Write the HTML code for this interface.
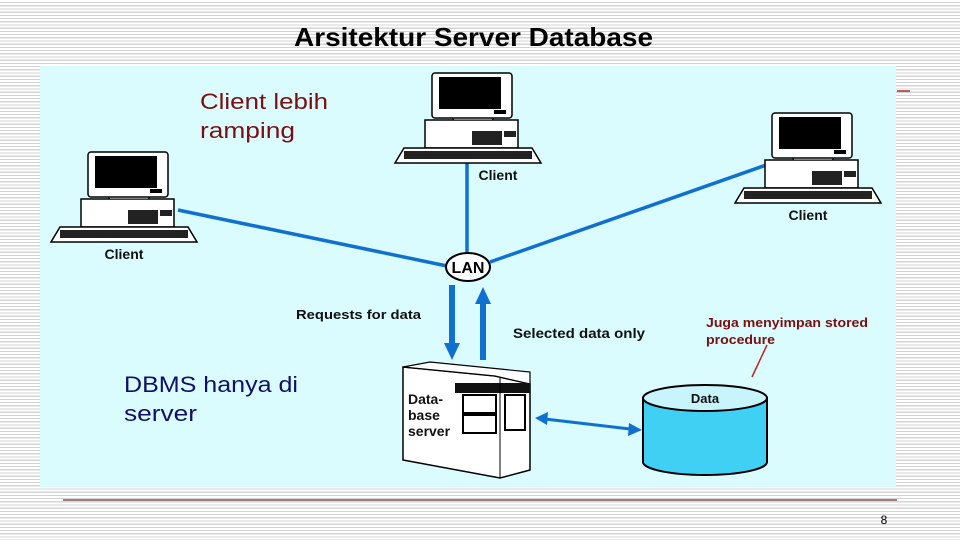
<!DOCTYPE html>
<html><head><meta charset="utf-8"><style>
body{margin:0;width:960px;height:540px;overflow:hidden;background:#fff;
background-image:repeating-linear-gradient(to bottom,#fff 0,#fff 2px,#d4d4d4 2px,#d4d4d4 3.2px);font-family:"Liberation Sans",sans-serif;}
svg{position:absolute;left:0;top:0}
</style></head><body>
<svg width="960" height="540" viewBox="0 0 960 540" font-family="Liberation Sans, sans-serif">
<defs>
<g id="pc">
 <rect x="-7" y="47" width="93" height="28" fill="#fff" stroke="#000" stroke-width="1.5"/>
 <rect x="40" y="58" width="30" height="14" fill="#222"/>
 <rect x="72" y="58" width="12" height="6" fill="#222"/>
 <path d="M22 47 L60 47 L66 41 L16 41Z" fill="#fff" stroke="#000"/>
 <rect x="0" y="0" width="80" height="45" rx="3" fill="#fff" stroke="#000" stroke-width="1.5"/>
 <rect x="7" y="4" width="62" height="32" fill="#000"/>
 <rect x="62" y="37" width="12" height="4" fill="#000"/>
 <path d="M-37 90 L109 90 L100 75 L-28 75Z" fill="#fff" stroke="#000" stroke-width="1.5"/>
 <rect x="-28" y="78" width="128" height="8" fill="#222"/>
</g>
</defs>
<text x="294" y="46" font-size="26" font-weight="bold" textLength="359" lengthAdjust="spacingAndGlyphs" fill="#000">Arsitektur Server Database</text>
<rect x="40" y="66" width="856" height="421" fill="#dafcfe"/>
<line x1="897" y1="91" x2="910" y2="91" stroke="#a03030" stroke-width="1.5"/>
<line x1="63" y1="500" x2="897" y2="500" stroke="#9a8080" stroke-width="2"/>
<text x="884" y="524" font-size="12" text-anchor="middle" fill="#000">8</text>
<g stroke="#1070d0" stroke-width="3.5" fill="none">
 <line x1="178" y1="210" x2="447" y2="266"/>
 <line x1="467" y1="163" x2="467" y2="254"/>
 <line x1="772" y1="163" x2="490" y2="262"/>
</g>
<use href="#pc" x="88" y="152"/>
<use href="#pc" x="432" y="73"/>
<use href="#pc" x="772" y="113"/>
<g font-size="14" font-weight="bold" fill="#111" text-anchor="middle">
<text x="124" y="259">Client</text>
<text x="498" y="180">Client</text>
<text x="808" y="220">Client</text>
</g>
<ellipse cx="468" cy="267" rx="22" ry="14" fill="#fff" stroke="#000" stroke-width="2"/>
<text x="468" y="273" font-size="16" font-weight="bold" text-anchor="middle">LAN</text>
<g fill="#1070d0" stroke="none">
 <rect x="449" y="285" width="6" height="60"/><path d="M444 343 L460 343 L452 360Z"/>
 <rect x="480" y="302" width="6" height="58"/><path d="M475 304 L491 304 L483 287Z"/>
</g>
<text x="296" y="319" font-size="13" font-weight="bold" fill="#111" textLength="125" lengthAdjust="spacingAndGlyphs">Requests for data</text>
<text x="513" y="338" font-size="14" font-weight="bold" fill="#111" textLength="132" lengthAdjust="spacingAndGlyphs">Selected data only</text>
<path d="M403 367 L495 376 L530 384 L530 470 L500 478 L403 460Z" fill="#fff" stroke="#000" stroke-width="1.5"/>
<path d="M403 367 L430 362 L530 372 L530 384 L495 376Z" fill="#fff" stroke="#000" stroke-width="1.2"/>
<rect x="455" y="383" width="75" height="10" fill="#111"/>
<line x1="500" y1="378" x2="500" y2="478" stroke="#000"/>
<rect x="463" y="395" width="33" height="18" fill="#fff" stroke="#000" stroke-width="2"/>
<rect x="463" y="415" width="33" height="18" fill="#fff" stroke="#000" stroke-width="2"/>
<rect x="505" y="395" width="20" height="35" fill="#fff" stroke="#000" stroke-width="2"/>
<text x="408" y="404" font-size="14" font-weight="bold" fill="#111">Data-</text>
<text x="408" y="420" font-size="14" font-weight="bold" fill="#111">base</text>
<text x="408" y="436" font-size="14" font-weight="bold" fill="#111">server</text>
<line x1="545" y1="419" x2="630" y2="429" stroke="#1070d0" stroke-width="3"/>
<path d="M535 418 L548 412 L547 425Z" fill="#1070d0"/>
<path d="M642 430 L629 423 L628 436Z" fill="#1070d0"/>
<path d="M643 398 L643 462 A62 13 0 0 0 767 462 L767 398Z" fill="#3fd0f4" stroke="#000" stroke-width="2"/>
<ellipse cx="705" cy="398" rx="62" ry="13" fill="#c8f4fc" stroke="#000" stroke-width="2"/>
<text x="705" y="403" font-size="13" font-weight="bold" text-anchor="middle" fill="#111">Data</text>
<line x1="752" y1="377" x2="767" y2="345" stroke="#c02020" stroke-width="1.5"/>
<text x="706" y="327" font-size="13" font-weight="bold" fill="#7a1010" textLength="162" lengthAdjust="spacingAndGlyphs">Juga menyimpan stored</text>
<text x="706" y="344" font-size="13" font-weight="bold" fill="#7a1010" textLength="69" lengthAdjust="spacingAndGlyphs">procedure</text>
<text x="200" y="109" font-size="22" fill="#7a1010" textLength="128" lengthAdjust="spacingAndGlyphs">Client lebih</text>
<text x="200" y="138" font-size="22" fill="#7a1010" textLength="95" lengthAdjust="spacingAndGlyphs">ramping</text>
<text x="124" y="392" font-size="22" fill="#10106a" textLength="174" lengthAdjust="spacingAndGlyphs">DBMS hanya di</text>
<text x="124" y="421" font-size="22" fill="#10106a" textLength="73" lengthAdjust="spacingAndGlyphs">server</text>
</svg>
</body></html>
